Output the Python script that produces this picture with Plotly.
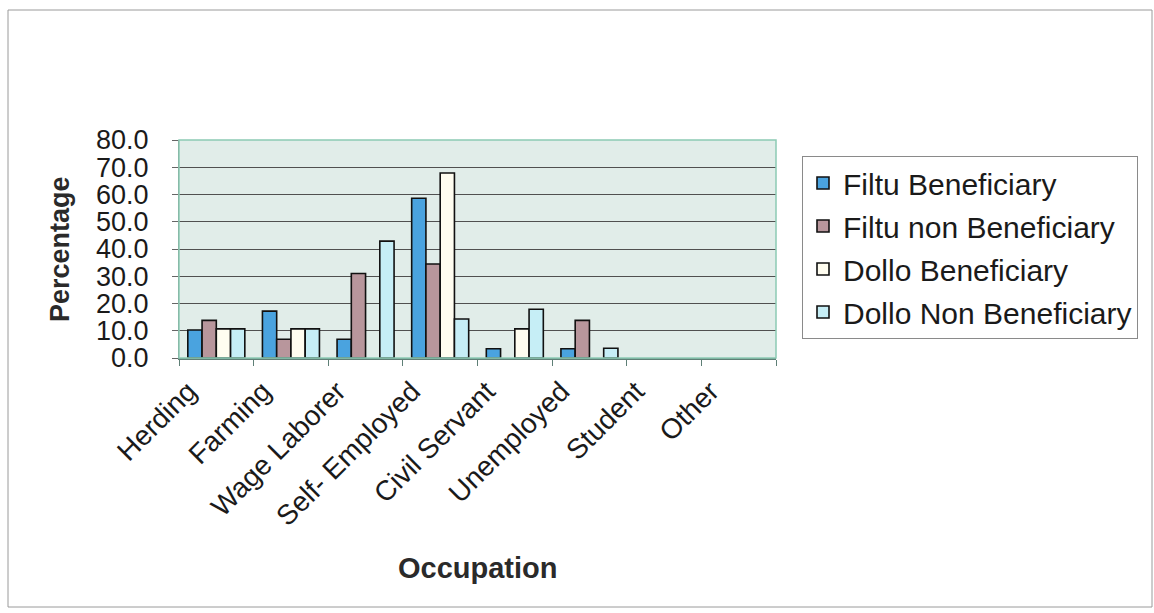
import plotly.graph_objects as go

occupations = ["Herding", "Farming", "Wage Laborer", "Self- Employed",
               "Civil Servant", "Unemployed", "Student", "Other"]
filtu_beneficiary = [10.3, 17.2, 6.9, 58.6, 3.4, 3.4, 0.0, 0.0]
filtu_non_beneficiary = [13.8, 6.9, 31.0, 34.5, 0.0, 13.8, 0.0, 0.0]
dollo_beneficiary = [10.7, 10.7, 0.0, 67.9, 10.7, 0.0, 0.0, 0.0]
dollo_non_beneficiary = [10.7, 10.7, 42.9, 14.3, 17.9, 3.6, 0.0, 0.0]
y_ticks = [0, 10, 20, 30, 40, 50, 60, 70, 80]

series = [
    ("Filtu Beneficiary", filtu_beneficiary, "#4aa3df"),
    ("Filtu non Beneficiary", filtu_non_beneficiary, "#b8969c"),
    ("Dollo Beneficiary", dollo_beneficiary, "#fffdf0"),
    ("Dollo Non Beneficiary", dollo_non_beneficiary, "#c6eef6"),
]

FONT = "Liberation Sans, Arial, sans-serif"

fig = go.Figure()
for i, (name, vals, color) in enumerate(series):
    fig.add_trace(go.Bar(
        x=occupations,
        y=[v if v > 0 else None for v in vals],
        name=name,
        legendgroup=f"g{i}",
        marker=dict(color=color, line=dict(color="#111111", width=1.6)),
    ))

# plot area in pixels: left 179, right 776, top 140, bottom 358
L, R, T, B = 179, 776, 140, 358
W, H = 1154, 613
pw, ph = R - L, B - T


def px(x):
    return (x - L) / pw


def py(y):
    return (B - y) / ph


fig.update_layout(
    width=W, height=H, autosize=False,
    margin=dict(l=L, r=W - R, t=T, b=H - B, pad=0),
    paper_bgcolor="white",
    plot_bgcolor="#e1ede9",
    barmode="group",
    bargap=0.236,
    bargroupgap=0,
    font=dict(family=FONT, color="#1a1a1a"),
    showlegend=True,
    legend=dict(
        x=px(802), y=py(156), xanchor="left", yanchor="top",
        bgcolor="white", bordercolor="#8a8a8a", borderwidth=1,
        font=dict(size=30, family=FONT, color="#1a1a1a"),
        traceorder="grouped", tracegroupgap=1,
        itemwidth=30,
    ),
    xaxis=dict(
        tickangle=-45,
        tickfont=dict(size=28, family=FONT),
        showline=True, linecolor="#5f7f76", linewidth=1.5,
        ticks="outside", tickson="boundaries", ticklen=6,
        tickcolor="#5f7f76",
        ticklabelshift=-28, ticklabelstandoff=4,
        showgrid=False,
    ),
    yaxis=dict(
        range=[0, 80],
        tickvals=y_ticks,
        tickformat=".1f",
        tickfont=dict(size=27, family=FONT),
        showline=True, linecolor="#7a8a86", linewidth=1,
        ticks="outside", ticklen=6, tickcolor="#666666",
        ticklabelstandoff=18,
        showgrid=True, gridcolor="#505050", gridwidth=1,
        zeroline=False,
    ),
    annotations=[
        dict(text="<b>Occupation</b>", x=0.5, y=py(568), xref="paper", yref="paper",
             xanchor="center", yanchor="middle", showarrow=False,
             font=dict(size=29, family=FONT, color="#2a2a2a")),
        dict(text="<b>Percentage</b>", x=px(60), y=0.5, xref="paper", yref="paper",
             xanchor="center", yanchor="middle", textangle=-90, showarrow=False,
             font=dict(size=27, family=FONT, color="#2a2a2a")),
    ],
    shapes=[
        # teal border around the plot area
        dict(type="rect", xref="paper", yref="paper", x0=0, x1=1, y0=0, y1=1,
             line=dict(color="#8ccab4", width=1.5), layer="above"),
        # outer chart frame
        dict(type="rect", xref="paper", yref="paper",
             x0=px(8), x1=px(1152), y0=py(607), y1=py(10),
             line=dict(color="#9a9a9a", width=1)),
    ],
)

fig.write_html("out.html")
